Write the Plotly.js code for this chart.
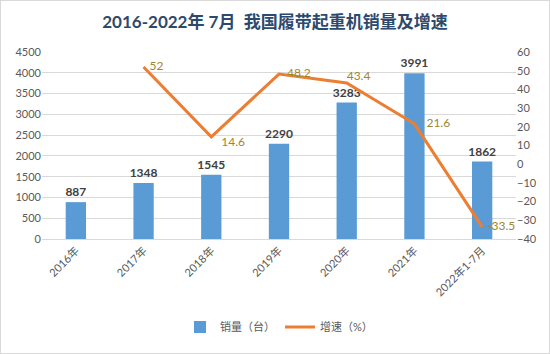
<!DOCTYPE html>
<html><head><meta charset="utf-8">
<script src="https://cdn.plot.ly/plotly-3.0.1.min.js"></script>
<style>html,body{margin:0;padding:0;background:#fff}#c{width:548px;height:352px;border:1px solid #d9d9d9}</style>
</head><body><div id="c"></div>
<script>
const categories = ["2016年","2017年","2018年","2019年","2020年","2021年","2022年1-7月"];
const sales = [887,1348,1545,2290,3283,3991,1862];
const growth = [null,52,14.6,48.2,43.4,21.6,-33.5];
const growthLabels = ["","52","14.6","48.2","43.4","21.6","-33.5"];
const growthPos = ["middle right","middle right","bottom right","middle right","top right","middle right","middle right"];

const F = "Lato, 'Noto Sans CJK SC', sans-serif";
const data = [
 {type:"bar", x:categories, y:sales, name:"销量（台）", marker:{color:"#5B9BD5"}, width:0.3,
  text:sales.map(String), textposition:"outside", cliponaxis:false, constraintext:"none",
  textfont:{family:F, size:12, color:"#404040", weight:"bold"}, yaxis:"y"},
 {type:"scatter", mode:"lines+text", x:categories, y:growth, name:"增速（%）", yaxis:"y2",
  line:{color:"#ED7D31", width:3}, text:growthLabels,
  textposition:growthPos, cliponaxis:false,
  textfont:{family:F, size:12, color:"#A0862E"}}
];
const layout = {
 width:548, height:352, margin:{l:41, r:33, t:51, b:112},
 paper_bgcolor:"#fff", plot_bgcolor:"#fff",
 title:{text:"<b>2016-2022年 7月  我国履带起重机销量及增速</b>", x:0.5, xanchor:"center", y:0.94, yanchor:"middle",
  font:{family:F, size:17, color:"#2C4A6E"}},
 font:{family:F, color:"#595959", size:11},
 showlegend:true,
 legend:{orientation:"h", x:0.5, xanchor:"center", y:-0.47, yanchor:"middle", font:{size:11, color:"#595959"}, traceorder:"normal"},
 xaxis:{tickangle:-45, tickfont:{size:11, color:"#595959"}, showline:true, linecolor:"#d9d9d9", ticks:"", showgrid:false},
 yaxis:{range:[0,4500], dtick:500, tickfont:{size:11, color:"#595959"}, gridcolor:"#d9d9d9", zeroline:false, ticks:"", ticklen:0},
 yaxis2:{overlaying:"y", side:"right", range:[-40,60], dtick:10, tickfont:{size:11, color:"#595959"}, showgrid:false, zeroline:false}
};
Plotly.newPlot("c", data, layout, {displayModeBar:false, staticPlot:true}).then(gd=>{
  // shift line labels a little to the right of their points, like the reference
  const shifts = [0,6,10,8,0,12,5];
  gd.querySelectorAll('.scatterlayer .trace .textpoint text').forEach((t,i)=>{
    const s = shifts[i+1] || 0;
    t.setAttribute('transform', 'translate(' + s + ',0)');
  });
});
</script></body></html>
